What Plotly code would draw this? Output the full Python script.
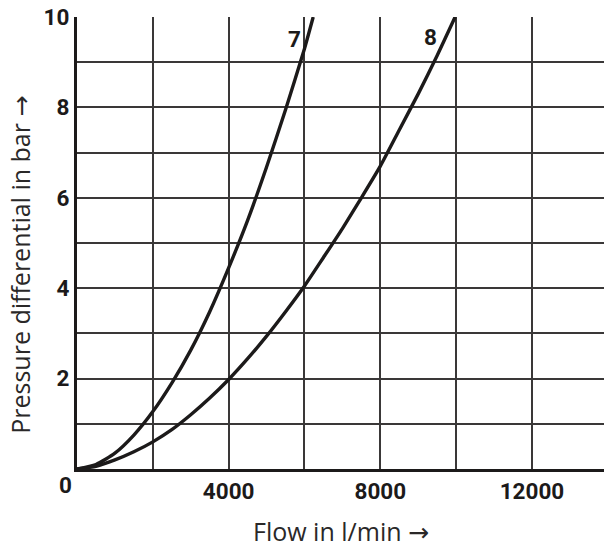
import plotly.graph_objects as go

# Curve 7
flow_7 = [0, 500, 1000, 1500, 2000, 2500, 3000, 3500, 4000, 4500, 5000, 5500, 6000, 6230]
dp_7 = [0, 0.1, 0.35, 0.75, 1.27, 1.9, 2.63, 3.48, 4.45, 5.5, 6.68, 7.95, 9.3, 10.0]

# Curve 8
flow_8 = [0, 500, 1000, 1500, 2000, 2500, 3000, 3500, 4000, 4500, 5000, 5500, 6000,
          6500, 7000, 7500, 8000, 8500, 9000, 9500, 9973]
dp_8 = [0, 0.06, 0.2, 0.38, 0.6, 0.87, 1.2, 1.57, 1.98, 2.44, 2.94, 3.48, 4.05,
        4.68, 5.32, 6.0, 6.7, 7.5, 8.3, 9.15, 10.0]

curve_labels = ["7", "8"]
label_pos_x = [5725, 9332]
label_pos_y = [9.52, 9.56]

x_tickvals = [0, 2000, 4000, 6000, 8000, 10000, 12000]
x_ticktext = ["", "", "4000", "", "8000", "", "12000"]
y_tickvals = [0, 1, 2, 3, 4, 5, 6, 7, 8, 9, 10]
y_ticktext = ["", "", "2", "", "4", "", "6", "", "8", "", "10"]

ARROW = '<span style="font-family:DejaVu Sans">→</span>'
x_title = "Flow in l/min " + ARROW
y_title = "Pressure differential in bar " + ARROW

INK = "#1c1a1a"
GRID = "#3a3838"
TICKFONT = dict(family="Roboto, Liberation Sans, Arial, sans-serif", size=22.5, color=INK, weight="bold")
TITLEFONT = dict(family="Open Sans, sans-serif", size=25, color="#2a2828", weight=400)

fig = go.Figure()
for fx, fy in [(flow_7, dp_7), (flow_8, dp_8)]:
    fig.add_trace(go.Scatter(x=fx, y=fy, mode="lines",
                             line=dict(color=INK, width=3.4, shape="spline", smoothing=0.6),
                             hoverinfo="skip", showlegend=False))

for t, lx, ly in zip(curve_labels, label_pos_x, label_pos_y):
    fig.add_annotation(x=lx, y=ly, xref="x", yref="y", text=t, showarrow=False,
                       font=TICKFONT, xanchor="center", yanchor="middle")

fig.add_annotation(x=-0.0214, y=-0.0358, xref="paper", yref="paper", text="0",
                   showarrow=False, font=TICKFONT, xanchor="center", yanchor="middle")
fig.add_annotation(x=0.5, y=-0.1365, xref="paper", yref="paper", text=x_title,
                   showarrow=False, font=TITLEFONT, xanchor="center", yanchor="middle")
fig.add_annotation(x=-0.108, y=0.452, xref="paper", yref="paper", text=y_title, textangle=-90,
                   showarrow=False, font=TITLEFONT, xanchor="center", yanchor="middle")

fig.update_xaxes(range=[0, 13900], tickvals=x_tickvals, ticktext=x_ticktext,
                 showgrid=True, gridcolor=GRID, gridwidth=1.8, zeroline=False,
                 showline=True, linecolor=INK, linewidth=3.2, ticks="",
                 tickfont=TICKFONT, fixedrange=True)
fig.update_yaxes(range=[0, 10], tickvals=y_tickvals, ticktext=y_ticktext,
                 showgrid=True, gridcolor=GRID, gridwidth=1.8, zeroline=False,
                 showline=True, linecolor=INK, linewidth=3.2, ticks="",
                 tickfont=TICKFONT, fixedrange=True)

fig.update_layout(width=604, height=547, margin=dict(l=77, r=0, t=17, b=78),
                  paper_bgcolor="white", plot_bgcolor="white", showlegend=False)

fig.write_html("out.html", config={"displayModeBar": False},
               post_script="document.body.style.margin='0';document.body.style.overflow='hidden';")
